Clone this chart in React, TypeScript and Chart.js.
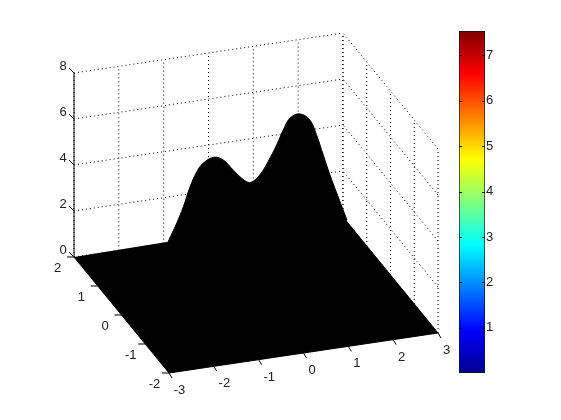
import React, { useEffect, useRef } from "react";
import { Chart, registerables } from "chart.js";

Chart.register(...registerables);

// Axis ticks
const xTicks = [-3, -2, -1, 0, 1, 2, 3];
const yTicks = [-2, -1, 0, 1, 2];
const zTicks = [0, 2, 4, 6, 8];
const colorbarTicks = [1, 2, 3, 4, 5, 6, 7];
const colorbarRange = [0, 7.54];

// Floor outline of the surface, in data units
const floorX = [-3, -3, 3, 3];
const floorY = [2, -2, -2, 2];

// Silhouette of the surface, as seen on the y = 0 plane
const silhouetteX = [2.03, 1.8, 1.65, 1.5, 1.35, 1.2, 0.98, 0.76, 0.61, 0.46, 0.27, 0.09, -0.1, -0.21, -0.36, -0.51, -0.73, -0.94, -1.18, -1.32, -1.47, -1.62, -1.77, -1.96];
const silhouetteZ = [2.67, 3.91, 4.74, 5.65, 6.57, 7.26, 7.59, 7.47, 7.0, 6.39, 5.72, 5.21, 4.93, 4.99, 5.25, 5.58, 6.08, 6.26, 6.07, 5.74, 5.13, 4.31, 3.63, 2.88];
const saddleIndex = 12;

// Jet colour map stops
const jetStops = [0, 0.125, 0.375, 0.625, 0.875, 1];
const jetColors = ["#00008f", "#0000ff", "#00ffff", "#ffff00", "#ff0000", "#800000"];

const FONT = '13px "Liberation Sans", Arial, sans-serif';
const INK = "#222";

// MATLAB-style view: data units to picture units of the hidden scales
function project(x: number, y: number, z: number) {
  const a = (x + 3) / 6;
  const b = (y + 2) / 4;
  return { x: 169 + 269 * a - 95 * b, y: 373 - 40 * a - 116 * b - 23 * z };
}

const gridStyle = { borderColor: "#000", borderWidth: 1, borderDash: [1, 3], pointRadius: 0, showLine: true, fill: false, order: 4, tension: 0 };
const solidStyle = { borderColor: "#000", borderWidth: 1, pointRadius: 0, showLine: true, fill: false, order: 1, tension: 0 };

function seg(p: any, q: any, style: any) {
  return { data: [p, q], ...style };
}

function buildDatasets() {
  const sets: any[] = [];
  const [x0, x1] = [xTicks[0], xTicks[xTicks.length - 1]];
  const [y0, y1] = [yTicks[0], yTicks[yTicks.length - 1]];
  const [z0, z1] = [zTicks[0], zTicks[zTicks.length - 1]];

  xTicks.forEach((x) => sets.push(seg(project(x, y1, z0), project(x, y1, z1), gridStyle)));
  yTicks.forEach((y) => sets.push(seg(project(x1, y, z0), project(x1, y, z1), gridStyle)));
  zTicks.forEach((z) => {
    sets.push(seg(project(x0, y1, z), project(x1, y1, z), gridStyle));
    sets.push(seg(project(x1, y0, z), project(x1, y1, z), gridStyle));
  });

  const surface = { showLine: true, fill: "shape", backgroundColor: "#000", borderColor: "#000", borderWidth: 1, pointRadius: 0 };
  const last = silhouetteX.length - 1;
  const floorOutline = [
    ...floorX.map((x, i) => project(x, floorY[i], 0)),
    project(silhouetteX[0], 0, silhouetteZ[0]),
    project(silhouetteX[saddleIndex], 0, silhouetteZ[saddleIndex]),
    project(silhouetteX[last], 0, silhouetteZ[last]),
  ];
  sets.push({ ...surface, data: floorOutline, tension: 0, order: 3 });
  sets.push({ ...surface, data: silhouetteX.map((x, i) => project(x, 0, silhouetteZ[i])), tension: 0.4, order: 2 });

  sets.push(seg(project(x0, y1, z0), project(x0, y1, z1), solidStyle));
  zTicks.forEach((z) => {
    const p = project(x0, y1, z);
    sets.push(seg(p, { x: p.x - 5, y: p.y - 5 }, solidStyle));
  });
  yTicks.forEach((y) => {
    const p = project(x0, y, 0);
    sets.push(seg(p, { x: p.x - 7, y: p.y }, solidStyle));
  });
  xTicks.forEach((x) => {
    const p = project(x, y0, 0);
    sets.push(seg(p, { x: p.x + 3, y: p.y + 5 }, solidStyle));
  });
  return sets;
}

const tickLabelPlugin = {
  id: "tickLabels",
  afterDatasetsDraw(chart: any) {
    const { ctx, scales } = chart;
    const put = (text: number, p: any, dx: number, dy: number) => {
      const neg = text < 0 ? 2 : 0;
      ctx.fillText(String(text), scales.x.getPixelForValue(p.x + dx + neg), scales.y.getPixelForValue(p.y + dy));
    };
    ctx.save();
    ctx.font = FONT;
    ctx.fillStyle = INK;
    ctx.textAlign = "center";
    ctx.textBaseline = "middle";
    zTicks.forEach((z) => put(z, project(xTicks[0], 2, z), -11, -6.5));
    yTicks.forEach((y) => put(y, project(-3, y, 0), -16.5, 11.5));
    xTicks.forEach((x) => put(x, project(x, -2, 0), 8.5, 17.5));
    ctx.restore();
  },
};

const colorbarInnerTicks = {
  id: "colorbarInnerTicks",
  afterDatasetsDraw(chart: any) {
    const { ctx, chartArea, scales } = chart;
    ctx.save();
    ctx.strokeStyle = "#000";
    ctx.lineWidth = 1;
    colorbarTicks.forEach((v) => {
      const py = Math.round(scales.y.getPixelForValue(v)) + 0.5;
      ctx.beginPath();
      ctx.moveTo(chartArea.left, py);
      ctx.lineTo(chartArea.left + 3, py);
      ctx.moveTo(chartArea.right - 3, py);
      ctx.lineTo(chartArea.right, py);
      ctx.stroke();
    });
    ctx.restore();
  },
};

export default function App() {
  const mainRef = useRef<HTMLCanvasElement>(null);
  const barRef = useRef<HTMLCanvasElement>(null);

  useEffect(() => {
    const main = new Chart(mainRef.current as any, {
      type: "scatter",
      data: { datasets: buildDatasets() },
      options: {
        animation: false,
        responsive: false,
        devicePixelRatio: 1,
        layout: { padding: 0 },
        clip: false,
        plugins: { legend: { display: false }, tooltip: { enabled: false } },
        scales: {
          x: { type: "linear", min: 0, max: 561, display: false },
          y: { type: "linear", min: 0, max: 420, reverse: true, display: false },
        },
      } as any,
      plugins: [tickLabelPlugin],
    });

    const bar = new Chart(barRef.current as any, {
      type: "bar",
      data: {
        labels: ["colorbar"],
        datasets: [
          {
            data: [colorbarRange as any],
            barPercentage: 1,
            categoryPercentage: 1,
            borderColor: "#111",
            borderWidth: 1,
            borderSkipped: false,
            backgroundColor: (c: any) => {
              const area = c.chart.chartArea;
              if (!area) return "#000";
              const g = c.chart.ctx.createLinearGradient(0, area.bottom, 0, area.top);
              jetStops.forEach((s, i) => g.addColorStop(s, jetColors[i]));
              return g;
            },
          },
        ],
      },
      options: {
        animation: false,
        responsive: false,
        devicePixelRatio: 1,
        layout: { padding: { left: 459, right: 36, top: 31, bottom: 47 } },
        plugins: { legend: { display: false }, tooltip: { enabled: false } },
        scales: {
          x: { display: false },
          y: {
            position: "right",
            min: colorbarRange[0],
            max: colorbarRange[1],
            afterBuildTicks: (s: any) => {
              s.ticks = colorbarTicks.map((value) => ({ value }));
            },
            afterFit: (s: any) => {
              s.width = 40;
            },
            ticks: { font: { family: '"Liberation Sans", Arial, sans-serif', size: 13 }, color: INK, padding: 1 },
            grid: { drawOnChartArea: false, drawTicks: false },
            border: { display: false },
          },
        },
      } as any,
      plugins: [colorbarInnerTicks],
    });

    return () => {
      main.destroy();
      bar.destroy();
    };
  }, []);

  const canvasStyle: React.CSSProperties = { position: "absolute", left: 0, top: 0 };
  return (
    <div style={{ position: "absolute", left: 0, top: 0, width: 561, height: 420, background: "#fff" }}>
      <canvas ref={mainRef} width={561} height={420} style={canvasStyle} />
      <canvas ref={barRef} width={561} height={420} style={canvasStyle} />
    </div>
  );
}
